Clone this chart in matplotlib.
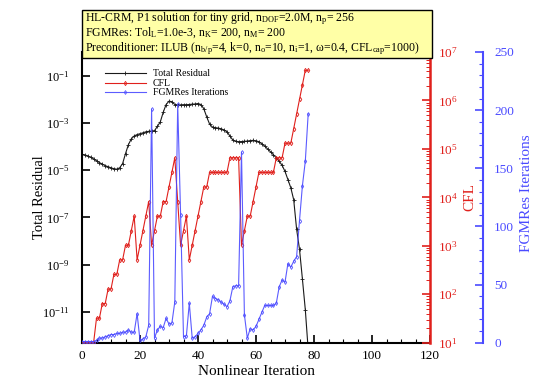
import numpy as np
import matplotlib
matplotlib.use('Agg')
import matplotlib.pyplot as plt
from matplotlib.patches import Rectangle
from matplotlib.ticker import LogLocator, NullLocator, MultipleLocator, NullFormatter

plt.rcParams['font.family'] = ['Liberation Serif', 'DejaVu Serif']
plt.rcParams['mathtext.fontset'] = 'custom'
plt.rcParams['mathtext.rm'] = 'Liberation Serif'
plt.rcParams['mathtext.it'] = 'Liberation Serif:italic'
plt.rcParams['mathtext.bf'] = 'Liberation Serif:bold'

#%% data
iters = list(range(79))

total_residual = [4.7e-5, 4.4e-5, 4.0e-5, 3.5e-5, 3.0e-5, 2.5e-5, 2.1e-5, 1.8e-5, 1.55e-5, 1.4e-5,
                  1.26e-5, 1.15e-5, 1.1e-5, 1.26e-5, 1.9e-5, 5.0e-5, 1.2e-4, 2.1e-4, 2.8e-4, 3.2e-4,
                  3.5e-4, 3.8e-4, 4.2e-4, 4.4e-4, 4.5e-4, 4.7e-4, 7.1e-4, 1.1e-3, 2.8e-3, 6.0e-3,
                  8.3e-3, 7.9e-3, 6.0e-3, 5.8e-3, 5.8e-3, 5.9e-3, 5.9e-3, 6.0e-3, 6.2e-3, 6.3e-3,
                  6.6e-3, 6.0e-3, 4.0e-3, 1.8e-3, 8.9e-4, 6.6e-4, 6.3e-4, 6.0e-4, 5.6e-4, 5.0e-4,
                  4.2e-4, 2.8e-4, 1.9e-4, 1.66e-4, 1.6e-4, 1.62e-4, 1.66e-4, 1.7e-4, 1.78e-4, 1.82e-4,
                  1.74e-4, 1.6e-4, 1.3e-4, 1.05e-4, 7.9e-5, 6.0e-5, 4.5e-5, 3.3e-5, 2.4e-5, 1.6e-5,
                  8.9e-6, 4.0e-6, 1.8e-6, 5.6e-7, 3.2e-8, 4.5e-9, 2.5e-10, 1.26e-11, 2.5e-13]

cfl = [10, 10, 10, 10, 10, 32, 32, 64, 64, 128,
       128, 256, 256, 512, 512, 1024, 1024, 2048, 4096, 512,
       1024, 2048, 4096, 8192, 1024, 2048, 4096, 4096, 8192, 8192,
       16384, 32768, 65536, 8192, 1024, 2048, 4096, 512, 1024, 2048,
       4096, 8192, 16384, 16384, 32768, 32768, 32768, 32768, 32768, 32768,
       32768, 65536, 65536, 65536, 65536, 1024, 2048, 4096, 4096, 8192,
       16384, 32768, 32768, 32768, 32768, 32768, 32768, 65536, 65536, 65536,
       131072, 131072, 131072, 262144, 524288, 1048576, 2097152, 4194304, 4194304]

fgmres_iters = [1, 1, 1, 1, 1, 2, 4, 4, 5, 6,
                7, 7, 8, 8, 9, 9, 11, 9, 9, 25,
                2, 3, 5, 15, 201, 4, 11, 14, 13, 21,
                16, 17, 35, 205, 110, 5, 6, 34, 4, 5,
                8, 11, 15, 22, 25, 40, 38, 37, 35, 33,
                31, 36, 48, 49, 49, 164, 24, 4, 12, 11,
                14, 20, 26, 32, 32, 32, 32, 34, 48, 54,
                52, 68, 65, 70, 74, 105, 135, 156, 197]

box_lines = [r'HL-CRM, P1 solution for tiny grid, n$_{\mathrm{DOF}}$=2.0M, n$_{\mathrm{p}}$= 256',
             r'FGMRes: Tol$_{\mathrm{L}}$=1.0e-3, n$_{\mathrm{K}}$= 200, n$_{\mathrm{M}}$= 200',
             r'Preconditioner: ILUB (n$_{\mathrm{b/p}}$=4, k=0, n$_{\mathrm{o}}$=10, n$_{\mathrm{i}}$=1, ω=0.4, CFL$_{\mathrm{cap}}$=1000)']

#%%
W, H = 558, 383
fig = plt.figure(figsize=(W/100, H/100), dpi=100)
x0, x1, yb, yt = 82, 430, 342.7, 52
ax = fig.add_axes([x0/W, 1-yb/H, (x1-x0)/W, (yb-yt)/H])
ax2 = ax.twinx()
ax3 = ax.twinx()

red = '#e0201c'
blue = '#4a4aff'

l1, = ax.plot(iters, total_residual, color='#1a1a1a', lw=0.8, marker='+', ms=2.5, mew=0.6,
              label='Total Residual')
l2, = ax2.plot(iters, cfl, color=red, lw=0.8, marker='d', ms=2.2, mfc='none', mew=0.6,
               label='CFL')
l3, = ax3.plot(iters, fgmres_iters, color=blue, lw=0.8, marker='d', ms=2.0, mfc='none', mew=0.6,
               alpha=0.9, label='FGMRes Iterations')

# main axis
ax.set_yscale('log')
ax.set_xlim(0, 120)
ax.set_ylim(5e-13, 1)
ax.set_yticks([10.0**k for k in (-11, -9, -7, -5, -3, -1)])
ax.yaxis.set_minor_locator(NullLocator())
ax.xaxis.set_major_locator(MultipleLocator(20))
ax.xaxis.set_minor_locator(MultipleLocator(5))
ax.tick_params(axis='both', which='major', direction='in', length=6, width=1.2, labelsize=9.5)
ax.tick_params(axis='y', which='major', pad=9, labelsize=9)
ax.tick_params(axis='x', which='major', pad=5)
ax.tick_params(axis='x', which='minor', direction='in', length=3, width=0.8)
ax.tick_params(axis='y', which='both', right=False)
ax.tick_params(axis='x', which='both', top=False)
for s in ['left', 'bottom']:
    ax.spines[s].set_linewidth(1.5)
ax.spines['top'].set_visible(False)
ax.spines['right'].set_visible(False)
ax.set_xlabel('Nonlinear Iteration', fontsize=11)
ax.set_ylabel('Total Residual', fontsize=10.5)
ax.xaxis.set_label_coords(0.5, -0.075)
ax.yaxis.set_label_coords(-0.103, 0.5)

# CFL axis
ax2.set_yscale('log')
ax2.set_ylim(10, 1e7)
ax2.yaxis.set_major_locator(LogLocator(base=10, numticks=10))
ax2.yaxis.set_minor_locator(LogLocator(base=10, subs=np.arange(2, 10), numticks=10))
ax2.yaxis.set_minor_formatter(NullFormatter())
ax2.tick_params(axis='y', which='major', direction='in', length=6, width=1.2, colors=red,
                labelsize=9.5, pad=6)
ax2.tick_params(axis='y', which='minor', direction='in', length=3, width=0.7, colors=red)
for s in ['left', 'top', 'bottom']:
    ax2.spines[s].set_visible(False)
ax2.spines['right'].set_color(red)
ax2.spines['right'].set_linewidth(1.8)
ax2.set_ylabel('CFL', color=red, fontsize=11)
ax2.yaxis.set_label_coords(1.096, 0.5)

# FGMRes axis
ax3.set_ylim(0, 250)
ax3.spines['right'].set_position(('axes', 1.152))
for s in ['left', 'top', 'bottom']:
    ax3.spines[s].set_visible(False)
ax3.spines['right'].set_color(blue)
ax3.spines['right'].set_linewidth(1.5)
ax3.yaxis.set_major_locator(MultipleLocator(50))
ax3.yaxis.set_minor_locator(MultipleLocator(10))
ax3.tick_params(axis='y', which='major', direction='in', length=6, width=1.2, colors=blue,
                labelsize=9.5, pad=8)
ax3.tick_params(axis='y', which='minor', direction='in', length=3, width=0.8, colors=blue)
ax3.set_ylabel('FGMRes Iterations', color=blue, fontsize=11)
ax3.yaxis.set_label_coords(1.258, 0.515)

leg = ax3.legend(handles=[l1, l2, l3], loc='upper left', bbox_to_anchor=(0.066, 0.94),
                 frameon=False, fontsize=7, handlelength=4.2, handletextpad=0.7,
                 labelspacing=0.05, borderpad=0, borderaxespad=0)

# info box on top
fig.add_artist(Rectangle((82/W, 1-58/H), (432-82)/W, 48/H, transform=fig.transFigure,
                         facecolor='#ffffa6', edgecolor='black', lw=1.0, zorder=10))
for i, t in enumerate(box_lines):
    fig.text(85/W, 1-(21+15*i)/H, t, fontsize=8.5, va='baseline', ha='left', zorder=11)

fig.savefig('out.png', dpi=100)
